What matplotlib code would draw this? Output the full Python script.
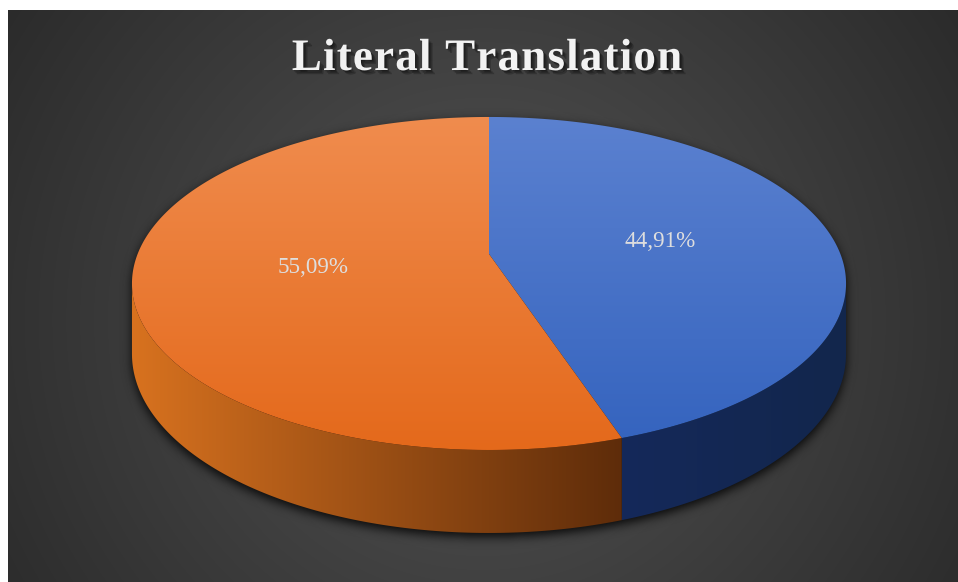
import numpy as np
import matplotlib
matplotlib.use("Agg")
import matplotlib.pyplot as plt
from matplotlib.patches import Polygon
from matplotlib.path import Path
from matplotlib.colors import to_rgb
from matplotlib.font_manager import FontProperties, findfont, get_font
import matplotlib.patheffects as pe

# 数据
title = "Literal Translation"
values = [44.91, 55.09]
# 顶面渐变(上->下), 侧面渐变(左->右)
top_colors = [("#5b81d0", "#3463be"), ("#f08c4e", "#e4691b")]
side_colors = [("#15295a", "#12264c"), ("#d8721f", "#5e2c0a")]

# 画布尺寸(像素)
W, H = 958, 582
# 透视饼图参数: 中心, 横/纵半径, 透视系数, 厚度
cx, cy = 489, 254
A, B, k, D = 351.4, 161.3, 0.177, 68.3


def proj(theta, r=1.0, drop=0.0):
    # theta: 从12点方向顺时针的角度
    t = np.radians(theta)
    u = r * np.sin(t)
    v = r * np.cos(t)
    s = 1.0 / (1.0 + k * v)
    return cx + A * u * s, cy - B * v * s + D * drop * s


def blur(m, r):
    kern = np.exp(-0.5 * (np.arange(-3 * r, 3 * r + 1) / r) ** 2)
    kern /= kern.sum()
    m = np.apply_along_axis(lambda a: np.convolve(a, kern, mode="same"), 1, m)
    m = np.apply_along_axis(lambda a: np.convolve(a, kern, mode="same"), 0, m)
    return m


fig = plt.figure(figsize=(W / 100, H / 100), dpi=100)
ax = fig.add_axes([0, 0, 1, 1])
ax.axis("off")

yy, xx = np.mgrid[0:H, 0:W] + 0.5

# 背景: 白边 + 深灰径向渐变
bg = np.ones((H, W, 3))
d = np.hypot(xx - 483, yy - 320)
g = np.clip(84 - 0.072 * d, 38, 90) / 255
panel = (xx >= 8) & (yy >= 10)
bg[panel] = g[panel][:, None]
ax.imshow(bg, extent=(0, W, H, 0), interpolation="bilinear", zorder=0)


def grad_patch(xy, c0, c1, coord, lo, hi, z):
    patch = Polygon(xy, closed=True, facecolor="none", edgecolor="none")
    ax.add_patch(patch)
    t = np.clip((coord - lo) / (hi - lo), 0, 1)[..., None]
    img = (1 - t) * np.array(to_rgb(c0)) + t * np.array(to_rgb(c1))
    im = ax.imshow(img, extent=(0, W, H, 0), interpolation="bilinear", zorder=z)
    im.set_clip_path(patch)


# 侧面可见范围(轮廓切点)
th_l = np.degrees(np.arccos(-k))
th_r = 360 - th_l

# 阴影
ring = np.linspace(0, 360, 400)
top_x, top_y = proj(ring)
sa = np.linspace(th_l, th_r, 200)
sx1, sy1 = proj(sa)
sx2, sy2 = proj(sa[::-1], drop=1.0)
pts = np.column_stack([xx.ravel(), yy.ravel()])
mask = Path(np.column_stack([top_x, top_y])).contains_points(pts)
mask |= Path(np.column_stack([np.r_[sx1, sx2], np.r_[sy1, sy2]])).contains_points(pts)
mask = mask.reshape(H, W).astype(float)
mask = np.roll(mask, 4, axis=0)
sh = blur(mask, 5)
shadow = np.zeros((H, W, 4))
shadow[..., 3] = np.clip(sh * 0.85, 0, 1)
ax.imshow(shadow, extent=(0, W, H, 0), zorder=1)

# 扇区角度
bounds = np.r_[0, np.cumsum(values) / np.sum(values) * 360]
split_x, _ = proj(bounds[1])

for i, v in enumerate(values):
    a0, a1 = bounds[i], bounds[i + 1]
    # 侧面
    s0, s1 = max(a0, th_l), min(a1, th_r)
    if s1 > s0:
        arc = np.linspace(s0, s1, 150)
        x1, y1 = proj(arc)
        x2, y2 = proj(arc[::-1], drop=1.0)
        xy = np.column_stack([np.r_[x1, x2], np.r_[y1, y2]])
        lo = x1.min() if i == 1 else split_x
        hi = split_x if i == 1 else x1.max()
        grad_patch(xy, side_colors[i][0], side_colors[i][1], xx, lo, hi, 2)
    # 顶面
    arc = np.linspace(a0, a1, 300)
    x1, y1 = proj(arc)
    xy = np.column_stack([np.r_[cx, x1], np.r_[cy, y1]])
    grad_patch(xy, top_colors[i][0], top_colors[i][1], yy, cy - B / (1 + k), cy + B / (1 - k), 3)

    # 数据标签
    mid = (a0 + a1) / 2
    lx, ly = proj(mid, r=0.5)
    ax.text(lx, ly, f"{v:.2f}%".replace(".", ","), ha="center", va="center",
            fontsize=16.6, family="Liberation Serif", color="#dedede", zorder=5)

# 标题, 逐字排列加字距
fp = FontProperties(family="Liberation Serif", weight="bold", size=32.4)
font = get_font(findfont(fp))
font.set_size(32.4, 100)
adv = [font.load_char(ord(c)).linearHoriAdvance / 65536 for c in title]
sp = 1.2
total = sum(adv) + sp * (len(title) - 1)
x = 487 - total / 2
shadow_fx = [pe.SimplePatchShadow(offset=(o, -o), shadow_rgbFace="black", alpha=0.22)
             for o in (1.0, 2.0, 3.0)] + [pe.Normal()]
for c, a in zip(title, adv):
    ax.text(x, 70, c, ha="left", va="baseline", fontproperties=fp, color="#f2f2f2", zorder=6,
            path_effects=shadow_fx)
    x += a + sp

ax.set_xlim(0, W)
ax.set_ylim(H, 0)
fig.savefig("out.png", dpi=100)
